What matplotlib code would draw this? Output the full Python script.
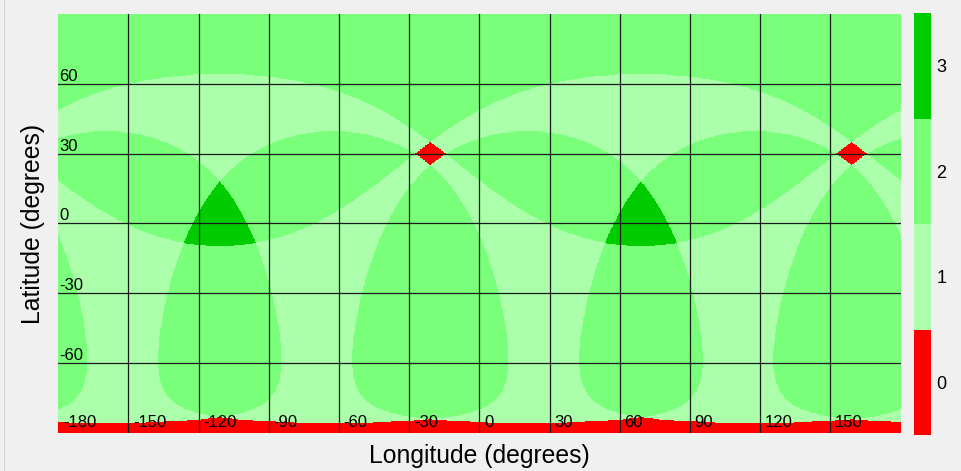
import numpy as np
import matplotlib as mp
mp.use('Agg')
import matplotlib.pyplot as plt
from matplotlib.colors import ListedColormap, BoundaryNorm

plt.rcParams['font.family'] = ['Liberation Sans', 'DejaVu Sans']

# sub-satellite points (degrees) and coverage half-angle
sat_lon = [-111.0, 69.0, -159.5, -62.5, 20.5, 117.5]
sat_lat = [53.0, 53.0, -23.0, -23.0, -23.0, -23.0]
cover_deg = 62.7

levels = [0, 1, 2, 3]
level_colors = ['#ff0000', '#abffab', '#79ff79', '#00cc00']
lon_ticks = [-180, -150, -120, -90, -60, -30, 0, 30, 60, 90, 120, 150]
lat_ticks = [-60, -30, 0, 30, 60]

# number of satellites seen from each grid point
lon = np.linspace(-180, 180, 1441)
lat = np.linspace(-90, 90, 721)
LON, LAT = np.meshgrid(np.radians(lon), np.radians(lat))
nvis = np.zeros(LON.shape, dtype=int)
for slon, slat in zip(sat_lon, sat_lat):
    p, l = np.radians(slat), np.radians(slon)
    cosd = np.sin(LAT)*np.sin(p) + np.cos(LAT)*np.cos(p)*np.cos(LON - l)
    nvis += (cosd >= np.cos(np.radians(cover_deg)))

fig = plt.figure(figsize=(9.61, 4.71), dpi=100)
fig.patch.set_facecolor('#f0f0f0')

ax = fig.add_axes([0.0605, 0.0815, 0.8766, 0.8888])
cmap = ListedColormap(level_colors)
norm = BoundaryNorm([-0.5, 0.5, 1.5, 2.5, 3.5], cmap.N)
im = ax.imshow(nvis, origin='lower', extent=[-180, 180, -90, 90], aspect='auto',
               cmap=cmap, norm=norm, interpolation='nearest')
ax.set_xlim(-180, 180)
ax.set_ylim(-90, 90)
ax.set_xticks(lon_ticks[1:])
ax.set_yticks(lat_ticks)
ax.grid(True, color='#1a1a1a', lw=0.9)
ax.tick_params(length=0, labelbottom=False, labelleft=False)
for s in ax.spines.values():
    s.set_visible(False)

for lo in lon_ticks:
    ax.text(lo + 2.0, -87.6, str(lo), ha='left', va='baseline', fontsize=12)
for la in lat_ticks:
    ax.text(-179.6, la + 1.3, str(la), ha='left', va='baseline', fontsize=12)

fig.text(479/961, 0.0176, 'Longitude (degrees)', ha='center', va='baseline', fontsize=17.8)
fig.text(33.5/961, 1 - 224/471, 'Latitude (degrees)', rotation=90,
         ha='center', va='center', fontsize=17.8)

cax = fig.add_axes([0.9514, 0.0764, 0.0171, 0.8954])
cbar = fig.colorbar(im, cax=cax, ticks=levels)
cbar.outline.set_visible(False)
cbar.minorticks_off()
cax.tick_params(which='both', length=0, labelsize=13, pad=4)

# faint leftover axis on the far left
lax = fig.add_axes([-0.2, 0.0, 0.2045, 1.0])
lax.set_facecolor('none')
for k in ['top', 'bottom', 'left']:
    lax.spines[k].set_visible(False)
lax.spines['right'].set_color('#d4d4d4')
lax.set_xticks([])
lax.set_ylim(471, 0)
lax.set_yticks([77, 155, 232, 309, 386])
lax.tick_params(axis='y', direction='inout', length=16, color='#c8c8c8', labelleft=False)

plt.savefig('out.png', dpi=100, facecolor=fig.get_facecolor())
